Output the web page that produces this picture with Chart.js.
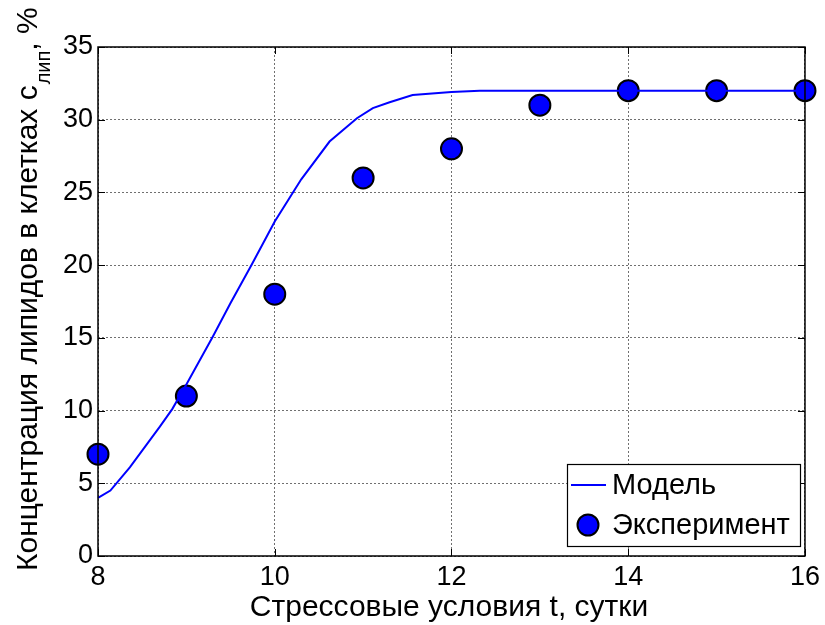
<!DOCTYPE html>
<html lang="ru">
<head>
<meta charset="UTF-8">
<title>Концентрация липидов</title>
<script src="https://cdn.jsdelivr.net/npm/chart.js"></script>
<style>
  body { margin: 0; background: #fff; }
  #wrap { width: 825px; height: 625px; }
</style>
</head>
<body>
<div id="wrap"><canvas id="myChart" width="825" height="625"></canvas></div>
<script>
  // Модель (кривая)
  var modelT = [8, 8.14, 8.36, 8.7, 8.84, 9, 9.3, 9.5, 9.74, 10, 10.3, 10.62, 10.93, 11.11, 11.3, 11.56, 12, 12.32, 13, 14, 15, 16];
  var modelC = [4, 4.5, 6.1, 8.9, 10.1, 11.8, 15.1, 17.4, 20.05, 23.0, 25.9, 28.5, 30.1, 30.8, 31.2, 31.7, 31.9, 32.0, 32, 32, 32, 32];

  // Эксперимент (точки)
  var expT = [8, 9, 10, 11, 12, 13, 14, 15, 16];
  var expC = [7, 11, 18, 26, 28, 31, 32, 32, 32];

  var xTicks = [8, 10, 12, 14, 16];
  var yTicks = [0, 5, 10, 15, 20, 25, 30, 35];

  var FONT = "'Liberation Sans', Arial, sans-serif";
  Chart.defaults.font.family = FONT;
  Chart.defaults.color = '#000';

  // рамка, внутренние засечки, подписи осей и легенда в стиле MATLAB
  var matlabStyle = {
    id: 'matlabStyle',
    afterDatasetsDraw: function (chart) {
      var ctx = chart.ctx;
      var a = chart.chartArea;
      var sx = chart.scales.x, sy = chart.scales.y;
      ctx.save();

      // засечки внутрь
      ctx.strokeStyle = '#000';
      ctx.lineWidth = 1;
      ctx.beginPath();
      xTicks.forEach(function (v) {
        var px = Math.round(sx.getPixelForValue(v)) + 0.5;
        ctx.moveTo(px, a.bottom); ctx.lineTo(px, a.bottom - 7);
        ctx.moveTo(px, a.top); ctx.lineTo(px, a.top + 7);
      });
      yTicks.forEach(function (v) {
        var py = Math.round(sy.getPixelForValue(v)) + 0.5;
        ctx.moveTo(a.left, py); ctx.lineTo(a.left + 7, py);
        ctx.moveTo(a.right, py); ctx.lineTo(a.right - 7, py);
      });
      ctx.stroke();

      // рамка
      ctx.lineWidth = 1.5;
      ctx.strokeRect(a.left, a.top, a.right - a.left, a.bottom - a.top);

      // легенда
      var lx = 567, ly = 464, lw = 233, lh = 82;
      ctx.fillStyle = '#fff';
      ctx.fillRect(lx, ly, lw, lh);
      ctx.lineWidth = 1.2;
      ctx.strokeRect(lx + 0.5, ly + 0.5, lw, lh);

      ctx.strokeStyle = '#0000ff';
      ctx.lineWidth = 2;
      ctx.beginPath();
      ctx.moveTo(571, 485); ctx.lineTo(606, 485);
      ctx.stroke();

      ctx.beginPath();
      ctx.arc(588, 525, 10.5, 0, Math.PI * 2);
      ctx.fillStyle = '#0000ff';
      ctx.fill();
      ctx.strokeStyle = '#000';
      ctx.lineWidth = 2;
      ctx.stroke();

      ctx.fillStyle = '#000';
      ctx.font = '29px ' + FONT;
      ctx.textBaseline = 'middle';
      ctx.textAlign = 'left';
      ctx.fillText(chart.data.datasets[0].label, 612, 486);
      ctx.fillText(chart.data.datasets[1].label, 612, 526);

      // подпись оси X
      ctx.font = '30px ' + FONT;
      ctx.textAlign = 'center';
      ctx.textBaseline = 'alphabetic';
      ctx.fillText('Стрессовые условия t, сутки', 449, 616);

      // подпись оси Y с индексом
      ctx.translate(37, 571);
      ctx.rotate(-Math.PI / 2);
      ctx.textAlign = 'left';
      var main = 'Концентрация липидов в клетках c';
      ctx.font = '30px ' + FONT;
      ctx.fillText(main, 0, 0);
      var x = ctx.measureText(main).width + 1;
      ctx.font = '20px ' + FONT;
      ctx.fillText('лип', x, 13);
      x += ctx.measureText('лип').width;
      ctx.font = '30px ' + FONT;
      ctx.fillText(', %', x, 0);

      ctx.restore();
    }
  };

  var modelData = modelT.map(function (t, i) { return { x: t, y: modelC[i] }; });
  var expData = expT.map(function (t, i) { return { x: t, y: expC[i] }; });

  var config = {
    type: 'scatter',
    data: {
      datasets: [{
        label: 'Модель',
        data: modelData,
        showLine: true,
        borderColor: '#0000ff',
        borderWidth: 2,
        pointRadius: 0,
        tension: 0,
        clip: false
      }, {
        label: 'Эксперимент',
        data: expData,
        showLine: false,
        backgroundColor: '#0000ff',
        borderColor: '#000',
        borderWidth: 2,
        pointRadius: 10.5,
        pointHoverRadius: 10.5,
        clip: false
      }]
    },
    options: {
      responsive: false,
      animation: false,
      layout: { padding: { left: 0, top: 47, right: 19, bottom: 0 } },
      plugins: {
        legend: { display: false },
        tooltip: { enabled: false }
      },
      scales: {
        x: {
          type: 'linear',
          min: 8, max: 16,
          afterBuildTicks: function (s) { s.ticks = xTicks.map(function (v) { return { value: v }; }); },
          afterFit: function (s) { s.height = 69; },
          ticks: { font: { size: 27 }, padding: 5, maxRotation: 0 },
          grid: { color: '#707070', lineWidth: 1, drawTicks: false },
          border: { display: false, dash: [2, 2] }
        },
        y: {
          type: 'linear',
          min: 0, max: 35,
          afterBuildTicks: function (s) { s.ticks = yTicks.map(function (v) { return { value: v }; }); },
          afterFit: function (s) { s.width = 98; },
          ticks: { font: { size: 27 }, padding: 5 },
          grid: { color: '#707070', lineWidth: 1, drawTicks: false },
          border: { display: false, dash: [2, 2] }
        }
      }
    },
    plugins: [matlabStyle]
  };

  new Chart(document.getElementById('myChart'), config);
</script>
</body>
</html>
